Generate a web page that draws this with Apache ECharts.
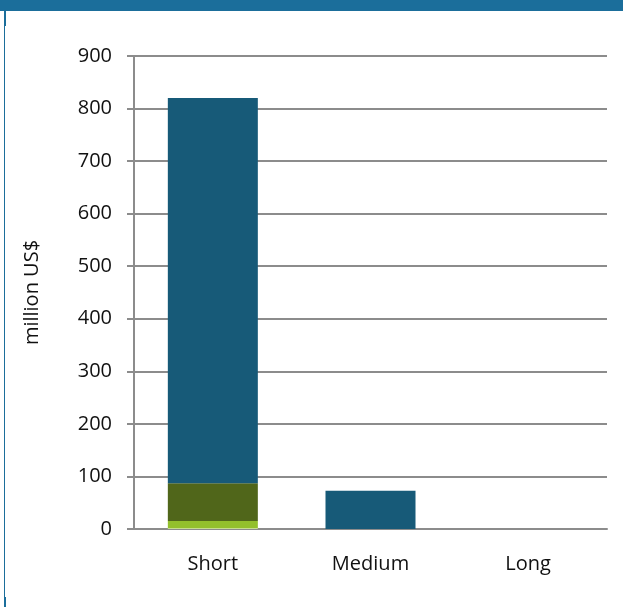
<!DOCTYPE html>
<html>
<head>
<meta charset="utf-8">
<script src="https://cdn.jsdelivr.net/npm/echarts@6/dist/echarts.min.js"></script>
<style>
  html, body { margin: 0; padding: 0; background: #ffffff; }
  #chart { width: 623px; height: 607px; }
</style>
</head>
<body>
<div id="chart"></div>
<script>
// Categories along the x axis
const categories = ['Short', 'Medium', 'Long'];

// Stacked components, bottom to top (million US$)
const palePart   = [2, 0, 0];
const lightPart  = [13, 0, 0];
const olivePart  = [72, 0, 0];
const bluePart   = [733, 73, 0];

// Value axis ticks
const yTicks = { min: 0, max: 900, interval: 100 };

const font = 'Open Sans, Noto Sans, sans-serif';

const chart = echarts.init(document.getElementById('chart'), null, { renderer: 'canvas' });

function layer(name, data, color) {
  return {
    name: name,
    type: 'bar',
    stack: 'total',
    data: data,
    barWidth: 90,
    itemStyle: { color: color },
    emphasis: { disabled: true }
  };
}

chart.setOption({
  animation: false,
  backgroundColor: '#ffffff',
  grid: { left: 134, right: 16, top: 56, bottom: 78 },
  xAxis: {
    type: 'category',
    data: categories,
    axisLine: { lineStyle: { color: '#8c8c8c', width: 2 } },
    axisTick: { show: false },
    axisLabel: { color: '#111111', fontSize: 20, fontFamily: font, margin: 25 }
  },
  yAxis: {
    type: 'value',
    min: yTicks.min,
    max: yTicks.max,
    interval: yTicks.interval,
    name: 'million US$',
    nameLocation: 'middle',
    nameRotate: 90,
    nameGap: 92,
    nameTextStyle: { color: '#111111', fontSize: 20, fontFamily: font },
    axisLine: { show: true, lineStyle: { color: '#8c8c8c', width: 2 } },
    axisTick: { show: true, length: 7, lineStyle: { color: '#8c8c8c', width: 2 } },
    splitLine: { lineStyle: { color: '#8c8c8c', width: 2 } },
    axisLabel: { color: '#111111', fontSize: 20, fontFamily: font, margin: 22 }
  },
  graphic: [
    { type: 'rect', shape: { x: 0, y: 0, width: 623, height: 11 }, style: { fill: '#1b6e9b' } },
    { type: 'rect', shape: { x: 4, y: 11, width: 2, height: 15 }, style: { fill: '#1b6e9b' } },
    { type: 'rect', shape: { x: 4, y: 26, width: 1, height: 571 }, style: { fill: '#1b6e9b' } },
    { type: 'rect', shape: { x: 4, y: 597, width: 2, height: 10 }, style: { fill: '#1b6e9b' } }
  ],
  series: [
    layer('pale', palePart, '#c6de8e'),
    layer('light', lightPart, '#93c02c'),
    layer('olive', olivePart, '#50661a'),
    layer('blue', bluePart, '#175a78')
  ]
});
</script>
</body>
</html>
